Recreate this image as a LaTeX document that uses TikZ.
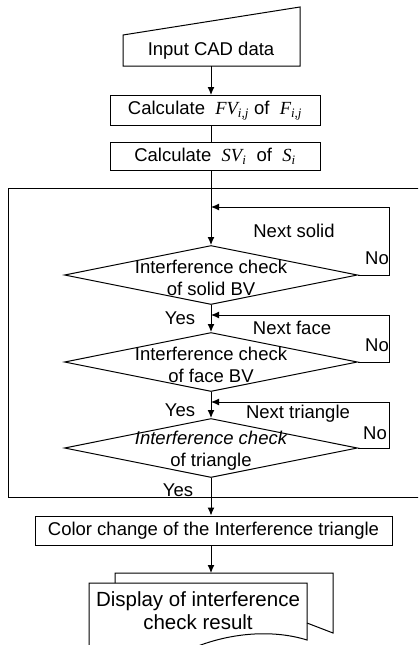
\documentclass[tikz,border=0pt]{standalone}
\usepackage{fontspec}
\setmainfont{Liberation Sans}
\newfontfamily\tms{Liberation Serif}
\usetikzlibrary{calc,arrows.meta,shapes.geometric}

\newcommand{\sym}[2]{{\tms\itshape #1\textsubscript{#2}}}

\begin{document}
\begin{tikzpicture}[x=1pt,y=-1pt,
	font=\fontsize{18.5}{22}\selectfont,
	line width=1pt,
	>={Latex[length=8pt,width=7pt]},
	proc/.style={draw, rectangle, minimum height=30pt, inner sep=0pt},
	chk/.style={draw, diamond, minimum width=293pt, minimum height=59pt, inner sep=0pt},
	txt/.style={align=center, inner sep=0pt}]

	\useasboundingbox (0,0) rectangle (418,645);
	\clip (0,0) rectangle (418,645);

	% input data
	\node[txt] (inp) at (211,51) {Input CAD data};
	\coordinate (inpb) at (211,66);
	\draw (123,66) -- (300,66) -- (300,7) -- (123,35) -- cycle;

	% preprocessing boxes
	\node[proc, minimum width=210pt] (calfv) at (215,110.5)
		{Calculate \ \sym{FV}{i,j} of \ \sym{F}{i,j}};
	\node[proc, minimum width=210pt, minimum height=28pt] (calsv) at (215,156)
		{Calculate \ \sym{SV}{i} \ of \ \sym{S}{i}};

	% loop frame
	\draw (8,188) rectangle (430,497);

	% checks
	\node[chk] (d1) at (211,275) {};
	\node[chk] (d2) at (211,362) {};
	\node[chk] (d3) at (211,448) {};
	\node[txt] (t1) at ($(d1)+(0,3)$) {Interference check\\of solid BV};
	\node[txt] (t2) at ($(d2)+(0,3)$) {Interference check\\of face BV};
	\node[txt] (t3) at ($(d3)+(0,3)$) {{\itshape Interference check}\\of triangle};

	% loop back points
	\coordinate (fb1) at (211,207);
	\coordinate (fb2) at (211,315);
	\coordinate (fb3) at (211,402);
	\coordinate (r1) at (389,207);
	\coordinate (r2) at (389,315);
	\coordinate (r3) at (389,402);

	% labels
	\node (nx1) at (294,231) {Next solid};
	\node (nx2) at (292,328) {Next face};
	\node (nx3) at (298,414) {Next triangle};
	\node (no1) at (377,258) {No};
	\node (no2) at (377,345) {No};
	\node (no3) at (375,433) {No};
	\node (y1) at (180,318) {Yes};
	\node (y2) at (180,410) {Yes};
	\node (y3) at (178,490) {Yes};

	% result boxes
	\node[proc, minimum width=357pt, minimum height=29pt] (col) at (213.5,530.5)
		{Color change of the Interference triangle};
	\node[txt, font=\fontsize{20.5}{23}\selectfont] (disp) at (198,611)
		{Display of interference\\check result};
	\coordinate (dtop) at (211,573);
	\draw (115,583) -- (115,573) -- (333,573) -- (333,633) -- (307,623);
	\draw (89,583) -- (307,583) -- (307,640)
		.. controls (275,630) and (235,632) .. (198,646)
		.. controls (160,660) and (110,660) .. (89,652) -- cycle;

	% flow
	\draw[->] (inpb) -- (calfv.north -| d1);
	\draw (calfv.south -| d1) -- (calsv.north -| d1);
	\draw[->] (calsv.south -| d1) -- (d1.north);
	\draw[->] (d1.south) -- (d2.north);
	\draw[->] (d2.south) -- (d3.north);
	\draw[->] (d3.south) -- (col.north -| d3);
	\draw[->] (col.south -| d3) -- (dtop);

	% no branches
	\draw[->] (d1.east) -| (r1) -- (fb1);
	\draw[->] (d2.east) -| (r2) -- (fb2);
	\draw[->] (d3.east) -| (r3) -- (fb3);

\end{tikzpicture}
\end{document}
